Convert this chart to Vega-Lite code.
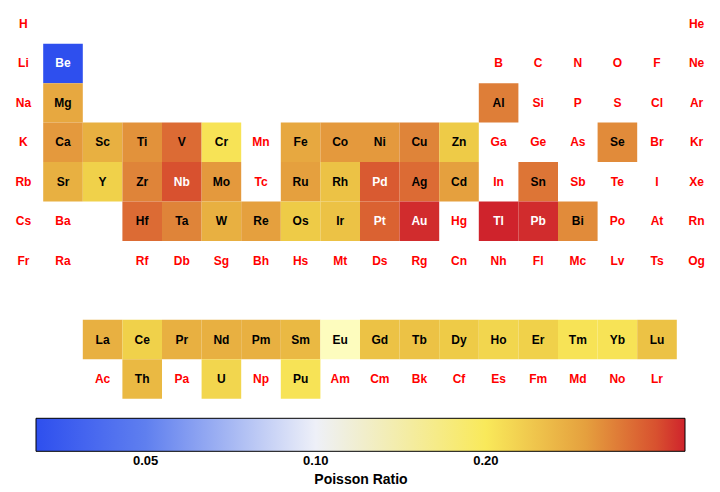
{
  "$schema": "https://vega.github.io/schema/vega-lite/v6.json",
  "width": 712.8,
  "height": 394.4,
  "autosize": {"type": "none"},
  "padding": {"left": 3.6, "top": 4.3, "right": 3.6, "bottom": 93.3},
  "background": "white",
  "config": {"view": {"stroke": null}, "font": "Liberation Sans"},
  "data": {"values": [
    {"s": "H", "col": 1, "row": 1}, {"s": "He", "col": 18, "row": 1},
    {"s": "Li", "col": 1, "row": 2}, {"s": "Be", "col": 2, "row": 2, "v": 0.032}, {"s": "B", "col": 13, "row": 2}, {"s": "C", "col": 14, "row": 2}, {"s": "N", "col": 15, "row": 2}, {"s": "O", "col": 16, "row": 2}, {"s": "F", "col": 17, "row": 2}, {"s": "Ne", "col": 18, "row": 2},
    {"s": "Na", "col": 1, "row": 3}, {"s": "Mg", "col": 2, "row": 3, "v": 0.29}, {"s": "Al", "col": 13, "row": 3, "v": 0.35}, {"s": "Si", "col": 14, "row": 3}, {"s": "P", "col": 15, "row": 3}, {"s": "S", "col": 16, "row": 3}, {"s": "Cl", "col": 17, "row": 3}, {"s": "Ar", "col": 18, "row": 3},
    {"s": "K", "col": 1, "row": 4}, {"s": "Ca", "col": 2, "row": 4, "v": 0.31}, {"s": "Sc", "col": 3, "row": 4, "v": 0.28}, {"s": "Ti", "col": 4, "row": 4, "v": 0.32}, {"s": "V", "col": 5, "row": 4, "v": 0.37}, {"s": "Cr", "col": 6, "row": 4, "v": 0.21}, {"s": "Mn", "col": 7, "row": 4}, {"s": "Fe", "col": 8, "row": 4, "v": 0.29}, {"s": "Co", "col": 9, "row": 4, "v": 0.31}, {"s": "Ni", "col": 10, "row": 4, "v": 0.31}, {"s": "Cu", "col": 11, "row": 4, "v": 0.34}, {"s": "Zn", "col": 12, "row": 4, "v": 0.25}, {"s": "Ga", "col": 13, "row": 4}, {"s": "Ge", "col": 14, "row": 4}, {"s": "As", "col": 15, "row": 4}, {"s": "Se", "col": 16, "row": 4, "v": 0.33}, {"s": "Br", "col": 17, "row": 4}, {"s": "Kr", "col": 18, "row": 4},
    {"s": "Rb", "col": 1, "row": 5}, {"s": "Sr", "col": 2, "row": 5, "v": 0.28}, {"s": "Y", "col": 3, "row": 5, "v": 0.24}, {"s": "Zr", "col": 4, "row": 5, "v": 0.34}, {"s": "Nb", "col": 5, "row": 5, "v": 0.40}, {"s": "Mo", "col": 6, "row": 5, "v": 0.31}, {"s": "Tc", "col": 7, "row": 5}, {"s": "Ru", "col": 8, "row": 5, "v": 0.30}, {"s": "Rh", "col": 9, "row": 5, "v": 0.26}, {"s": "Pd", "col": 10, "row": 5, "v": 0.39}, {"s": "Ag", "col": 11, "row": 5, "v": 0.37}, {"s": "Cd", "col": 12, "row": 5, "v": 0.30}, {"s": "In", "col": 13, "row": 5}, {"s": "Sn", "col": 14, "row": 5, "v": 0.36}, {"s": "Sb", "col": 15, "row": 5}, {"s": "Te", "col": 16, "row": 5}, {"s": "I", "col": 17, "row": 5}, {"s": "Xe", "col": 18, "row": 5},
    {"s": "Cs", "col": 1, "row": 6}, {"s": "Ba", "col": 2, "row": 6}, {"s": "Hf", "col": 4, "row": 6, "v": 0.37}, {"s": "Ta", "col": 5, "row": 6, "v": 0.34}, {"s": "W", "col": 6, "row": 6, "v": 0.28}, {"s": "Re", "col": 7, "row": 6, "v": 0.30}, {"s": "Os", "col": 8, "row": 6, "v": 0.25}, {"s": "Ir", "col": 9, "row": 6, "v": 0.26}, {"s": "Pt", "col": 10, "row": 6, "v": 0.38}, {"s": "Au", "col": 11, "row": 6, "v": 0.44}, {"s": "Hg", "col": 12, "row": 6}, {"s": "Tl", "col": 13, "row": 6, "v": 0.45}, {"s": "Pb", "col": 14, "row": 6, "v": 0.44}, {"s": "Bi", "col": 15, "row": 6, "v": 0.33}, {"s": "Po", "col": 16, "row": 6}, {"s": "At", "col": 17, "row": 6}, {"s": "Rn", "col": 18, "row": 6},
    {"s": "Fr", "col": 1, "row": 7}, {"s": "Ra", "col": 2, "row": 7}, {"s": "Rf", "col": 4, "row": 7}, {"s": "Db", "col": 5, "row": 7}, {"s": "Sg", "col": 6, "row": 7}, {"s": "Bh", "col": 7, "row": 7}, {"s": "Hs", "col": 8, "row": 7}, {"s": "Mt", "col": 9, "row": 7}, {"s": "Ds", "col": 10, "row": 7}, {"s": "Rg", "col": 11, "row": 7}, {"s": "Cn", "col": 12, "row": 7}, {"s": "Nh", "col": 13, "row": 7}, {"s": "Fl", "col": 14, "row": 7}, {"s": "Mc", "col": 15, "row": 7}, {"s": "Lv", "col": 16, "row": 7}, {"s": "Ts", "col": 17, "row": 7}, {"s": "Og", "col": 18, "row": 7},
    {"s": "La", "col": 3, "row": 9, "v": 0.28}, {"s": "Ce", "col": 4, "row": 9, "v": 0.24}, {"s": "Pr", "col": 5, "row": 9, "v": 0.28}, {"s": "Nd", "col": 6, "row": 9, "v": 0.28}, {"s": "Pm", "col": 7, "row": 9, "v": 0.28}, {"s": "Sm", "col": 8, "row": 9, "v": 0.27}, {"s": "Eu", "col": 9, "row": 9, "v": 0.15}, {"s": "Gd", "col": 10, "row": 9, "v": 0.26}, {"s": "Tb", "col": 11, "row": 9, "v": 0.26}, {"s": "Dy", "col": 12, "row": 9, "v": 0.25}, {"s": "Ho", "col": 13, "row": 9, "v": 0.23}, {"s": "Er", "col": 14, "row": 9, "v": 0.24}, {"s": "Tm", "col": 15, "row": 9, "v": 0.21}, {"s": "Yb", "col": 16, "row": 9, "v": 0.21}, {"s": "Lu", "col": 17, "row": 9, "v": 0.26},
    {"s": "Ac", "col": 3, "row": 10}, {"s": "Th", "col": 4, "row": 10, "v": 0.27}, {"s": "Pa", "col": 5, "row": 10}, {"s": "U", "col": 6, "row": 10, "v": 0.23}, {"s": "Np", "col": 7, "row": 10}, {"s": "Pu", "col": 8, "row": 10, "v": 0.21}, {"s": "Am", "col": 9, "row": 10}, {"s": "Cm", "col": 10, "row": 10}, {"s": "Bk", "col": 11, "row": 10}, {"s": "Cf", "col": 12, "row": 10}, {"s": "Es", "col": 13, "row": 10}, {"s": "Fm", "col": 14, "row": 10}, {"s": "Md", "col": 15, "row": 10}, {"s": "No", "col": 16, "row": 10}, {"s": "Lr", "col": 17, "row": 10}
  ]},
  "encoding": {
    "x": {"field": "col", "type": "ordinal", "axis": null,
          "scale": {"domain": [1,2,3,4,5,6,7,8,9,10,11,12,13,14,15,16,17,18], "paddingInner": 0, "paddingOuter": 0}},
    "y": {"field": "row", "type": "ordinal", "axis": null,
          "scale": {"domain": [1,2,3,4,5,6,7,8,9,10], "paddingInner": 0, "paddingOuter": 0}}
  },
  "layer": [
    {
      "transform": [{"filter": "isValid(datum.v)"}],
      "mark": {"type": "rect"},
      "encoding": {
        "color": {"field": "v", "type": "quantitative",
          "scale": {"type": "log", "interpolate": "rgb",
            "domain": [0.032, 0.05, 0.1, 0.12, 0.15, 0.19, 0.25, 0.3, 0.35, 0.4, 0.45],
            "range": ["#2E4FEE", "#5F7FEF", "#EEF0F8", "#F8F8EC", "#FDFCBE", "#FCF05E", "#EECB47", "#E5A03E", "#DE7E38", "#D8512F", "#CF232C"]},
          "legend": {
            "orient": "none", "legendX": 32.4, "legendY": 414, "direction": "horizontal",
            "gradientLength": 649, "gradientThickness": 33,
            "gradientStrokeColor": "black", "gradientStrokeWidth": 1,
            "values": [0.05, 0.1, 0.2], "format": ".2f",
            "labelFont": "Liberation Sans", "labelFontSize": 13, "labelFontWeight": "bold", "labelColor": "black", "labelOffset": 4,
            "title": "Poisson Ratio", "titleOrient": "bottom", "titleAnchor": "middle",
            "titleFont": "Liberation Sans", "titleFontSize": 14, "titleFontWeight": "bold", "titleColor": "black", "titlePadding": 5,
            "padding": 0
          }}
      }
    },
    {
      "mark": {"type": "text", "font": "Liberation Sans", "fontSize": 12, "fontWeight": "bold", "align": "center", "baseline": "middle"},
      "encoding": {
        "text": {"field": "s", "type": "nominal"},
        "color": {
          "condition": [
            {"test": "isValid(datum.v) && (datum.v >= 0.38 || datum.v < 0.06)", "value": "white"},
            {"test": "isValid(datum.v)", "value": "black"}
          ],
          "value": "#ff0000"
        }
      }
    }
  ]
}
